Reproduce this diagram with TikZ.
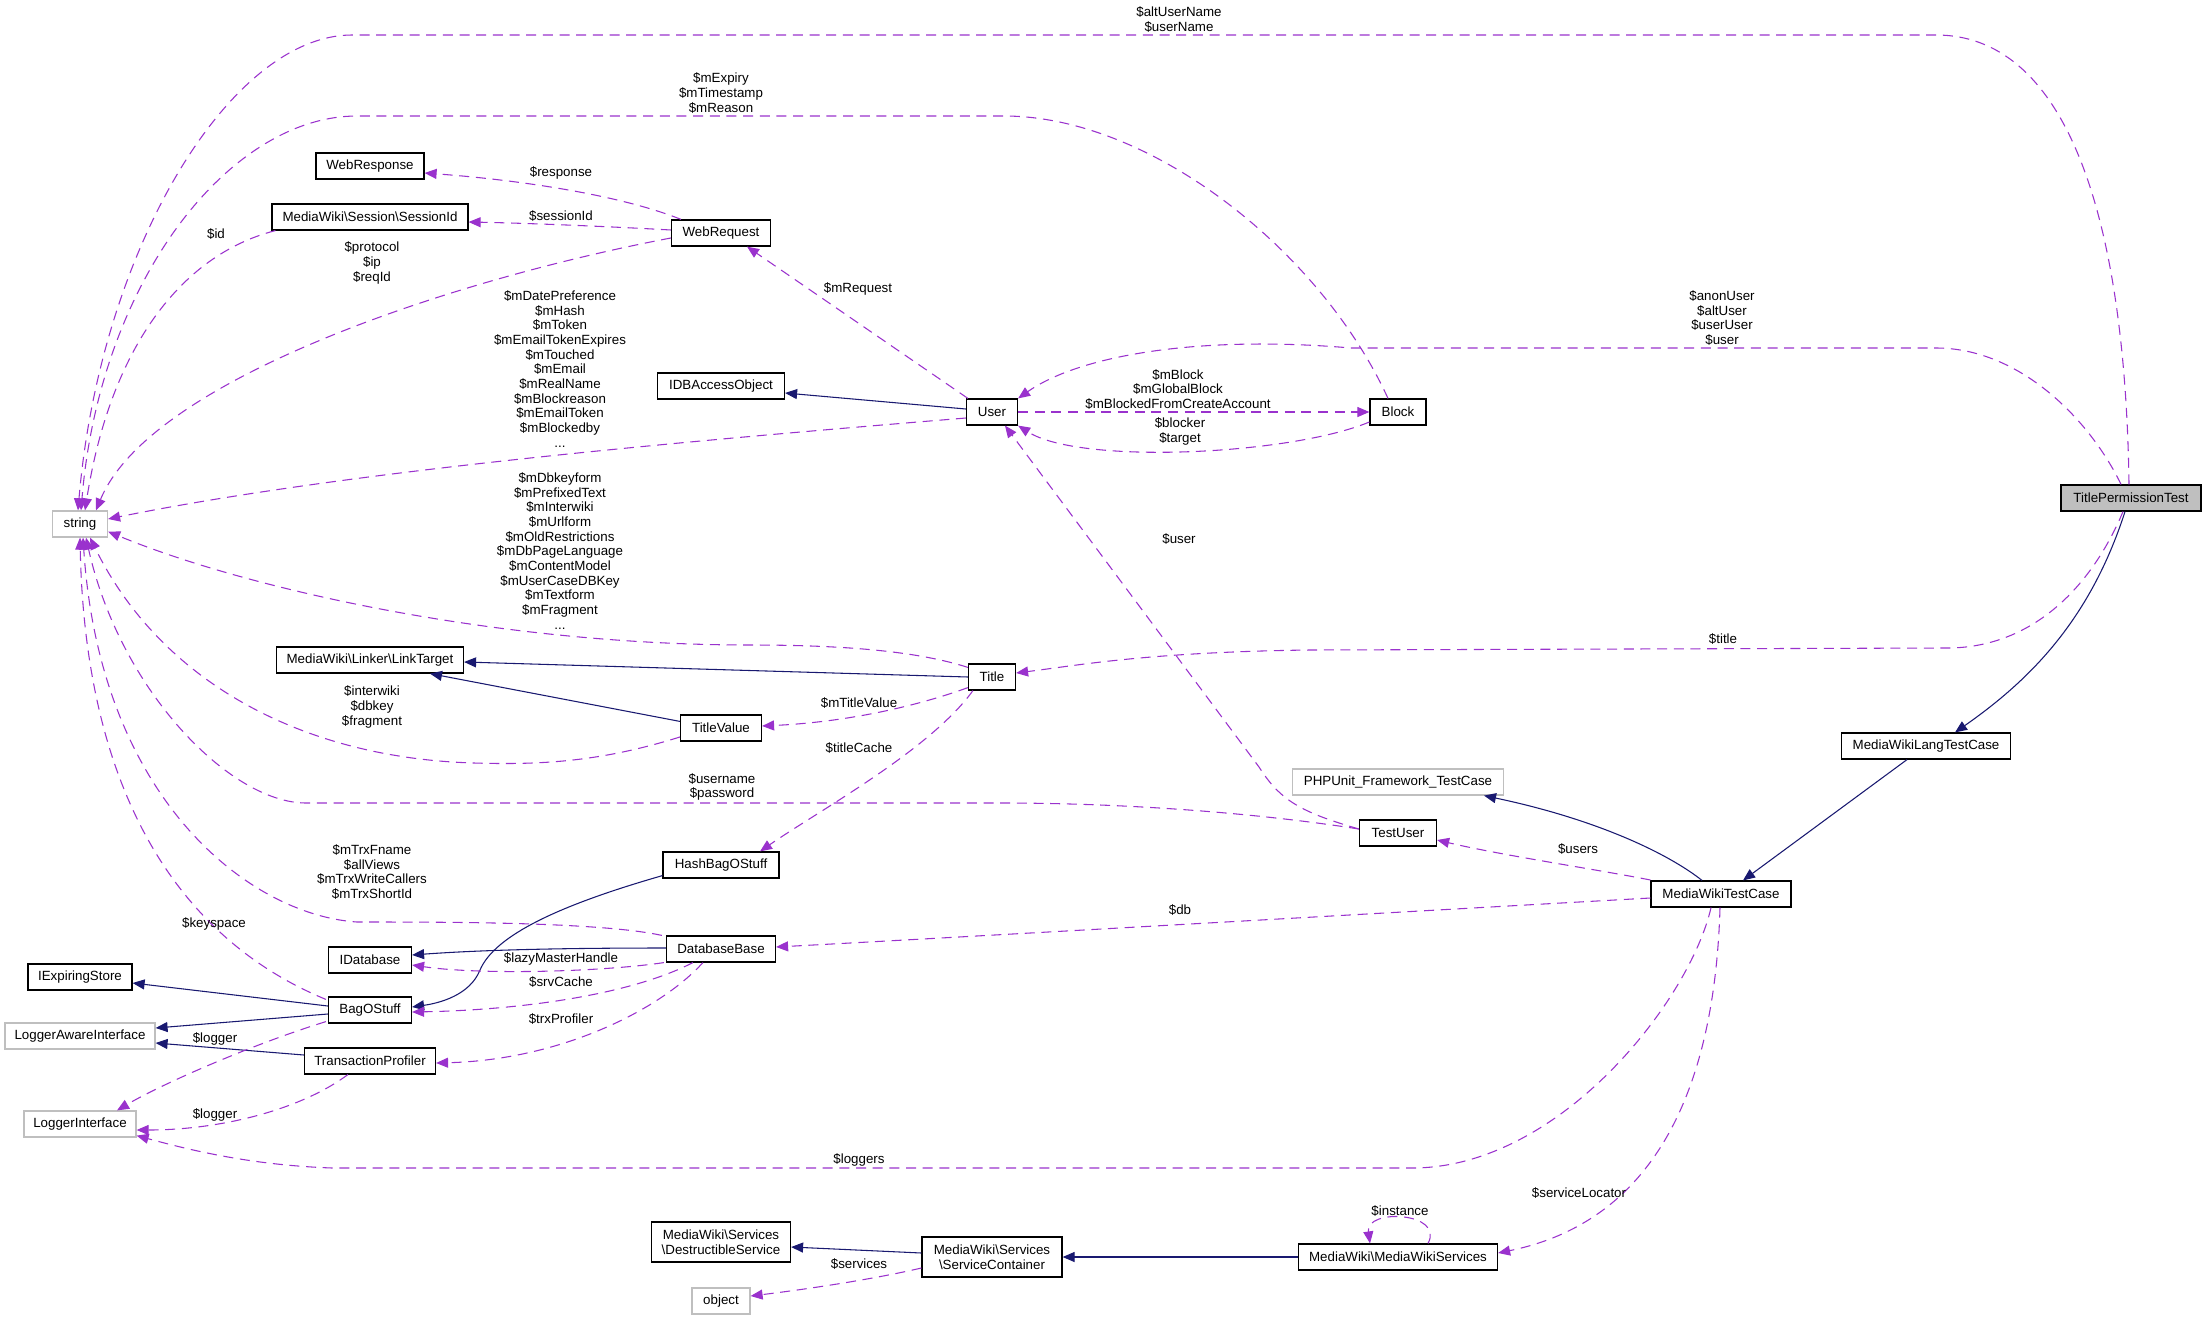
\documentclass[tikz,border=0pt]{standalone}
\usepackage{fontspec}
\setmainfont{Liberation Sans}
\usetikzlibrary{arrows.meta,calc}
\definecolor{navy}{HTML}{191970}
\definecolor{purp}{HTML}{9A32CD}
\definecolor{grayb}{HTML}{BFBFBF}
\begin{document}
\begin{tikzpicture}[x=0.75pt,y=-0.75pt,
  every node/.style={font=\fontsize{10}{11}\selectfont},
  cls/.style={draw=black, line width=0.9pt, fill=white, inner sep=0pt, minimum height=19.5pt, align=center},
  ext/.style={cls, draw=grayb},
  cur/.style={cls, fill=grayb},
  inh/.style={draw=navy, line width=0.8pt, -{Triangle[length=9pt,width=7.5pt]}},
  use/.style={draw=purp, line width=0.8pt, dash pattern=on 7.5pt off 5pt, -{Triangle[length=9pt,width=7.5pt]}},
  lbl/.style={inner sep=0pt, align=center}]
\useasboundingbox (0,0) rectangle (2205,1320);
% nodes
\node[cls, minimum width=81pt] (WebResponse) at (370,166) {WebResponse};
\node[cls, minimum width=147pt] (SessionId) at (370,217) {MediaWiki\textbackslash Session\textbackslash SessionId};
\node[cls, minimum width=74.25pt] (WebRequest) at (721,233) {WebRequest};
\node[cls, minimum width=95.25pt] (IDBAccessObject) at (721,386) {IDBAccessObject};
\node[ext, minimum width=41.25pt] (string) at (80,524) {string};
\node[cls, minimum width=140.25pt] (LinkTarget) at (370,660) {MediaWiki\textbackslash Linker\textbackslash LinkTarget};
\node[cls, minimum width=60.75pt] (TitleValue) at (721,728) {TitleValue};
\node[cls, minimum width=87pt] (HashBagOStuff) at (721,865) {HashBagOStuff};
\node[cls, minimum width=78pt] (IExpiringStore) at (80,977) {IExpiringStore};
\node[ext, minimum width=112.5pt] (LoggerAwareInterface) at (80,1036) {LoggerAwareInterface};
\node[ext, minimum width=84pt] (LoggerInterface) at (80,1124) {LoggerInterface};
\node[cls, minimum width=62.25pt] (IDatabase) at (370,960) {IDatabase};
\node[cls, minimum width=62.25pt] (BagOStuff) at (370,1010) {BagOStuff};
\node[cls, minimum width=98.25pt] (TransactionProfiler) at (370,1061) {TransactionProfiler};
\node[cls, minimum width=81.75pt] (DatabaseBase) at (721,949) {DatabaseBase};
\node[cls, minimum width=104.25pt, minimum height=30pt] (DestructibleService) at (721,1242) {MediaWiki\textbackslash Services\\\textbackslash DestructibleService};
\node[ext, minimum width=43.5pt] (object) at (721,1301) {object};
\node[cls, minimum width=38.25pt] (User) at (992,412) {User};
\node[cls, minimum width=42pt] (Block) at (1398,412) {Block};
\node[cls, minimum width=35.25pt] (Title) at (992,677) {Title};
\node[ext, minimum width=158.25pt] (PHPUnit) at (1398,782) {PHPUnit\_Framework\_TestCase};
\node[cls, minimum width=57.75pt] (TestUser) at (1398,833) {TestUser};
\node[cur, minimum width=105pt] (TPT) at (2131,498) {TitlePermissionTest};
\node[cls, minimum width=126.75pt] (MWLTC) at (1926,746) {MediaWikiLangTestCase};
\node[cls, minimum width=105pt] (MWTC) at (1721,894) {MediaWikiTestCase};
\node[cls, minimum width=105pt, minimum height=30pt] (ServiceContainer) at (992,1257) {MediaWiki\textbackslash Services\\\textbackslash ServiceContainer};
\node[cls, minimum width=149.25pt] (MWS) at (1398,1257) {MediaWiki\textbackslash MediaWikiServices};
% inheritance
\draw[inh] ($(User.west)+(0,-3)$) -- ($(IDBAccessObject.east)+(0,7)$);
\draw[inh] (Title.west) -- ($(LinkTarget.east)+(0,2)$);
\draw[inh] ($(TitleValue.north west)+(0,7)$) -- ($(LinkTarget.south)+(60,0)$);
\draw[inh] ($(HashBagOStuff.south west)+(0,-3)$) .. controls (560,905) and (495,935) .. (480,970) .. controls (470,995) and (440,1003) .. ($(BagOStuff.east)+(0,-3)$);
\draw[inh] ($(DatabaseBase.west)+(0,-1)$) .. controls (560,948) and (480,950) .. ($(IDatabase.east)+(0,-5)$);
\draw[inh] ($(BagOStuff.west)+(0,-4)$) -- ($(IExpiringStore.east)+(0,6)$);
\draw[inh] ($(BagOStuff.west)+(0,4)$) -- ($(LoggerAwareInterface.east)+(0,-8)$);
\draw[inh] ($(TransactionProfiler.west)+(0,-6)$) -- ($(LoggerAwareInterface.east)+(0,7)$);
\draw[inh] ($(TPT.south)+(-6,0)$) .. controls (2090,620) and (2030,680) .. ($(MWLTC.north)+(29,0)$);
\draw[inh] ($(MWLTC.south)+(-19,0)$) -- ($(MWTC.north)+(22,0)$);
\draw[inh] ($(MWTC.north)+(-19,0)$) .. controls (1670,855) and (1600,820) .. ($(PHPUnit.south)+(86,0)$);
\draw[inh] ($(ServiceContainer.west)+(0,-4)$) -- ($(DestructibleService.east)+(0,5)$);
\draw[inh] (MWS.west) -- (ServiceContainer.east);
% usage
\draw[use] ($(TPT.north)+(-2,0)$) .. controls (2125,200) and (2060,35) .. (1936,35) -- (352,35) .. controls (230,35) and (100,250) .. ($(string.north)+(-2,0)$);
\draw[use] ($(Block.north)+(-10,0)$) .. controls (1320,250) and (1150,116) .. (1004,116) -- (357,116) .. controls (230,116) and (100,280) .. ($(string.north)+(1,0)$);
\draw[use] ($(WebRequest.north)+(-40,0)$) .. controls (620,195) and (520,180) .. ($(WebResponse.east)+(0,7)$);
\draw[use] ($(WebRequest.west)+(0,-3)$) .. controls (600,226) and (520,223) .. ($(SessionId.east)+(0,5)$);
\draw[use] ($(SessionId.south west)+(4,0)$) .. controls (180,255) and (110,350) .. ($(string.north)+(5,0)$);
\draw[use] ($(WebRequest.west)+(0,5)$) .. controls (450,280) and (150,380) .. ($(string.north)+(16,0)$);
\draw[use] ($(User.north west)+(2,0)$) -- ($(WebRequest.south)+(26,0)$);
\draw[use] ($(User.west)+(0,6)$) .. controls (700,440) and (350,470) .. ($(string.east)+(0,-5)$);
\draw[use] (User.east) -- (Block.west);
\draw[use] ($(Block.west)+(0,10)$) .. controls (1290,455) and (1080,465) .. (User.south east);
\draw[use] ($(TPT.north)+(-10,0)$) .. controls (2090,420) and (2020,348) .. (1936,348) -- (1351,348) .. controls (1200,335) and (1080,355) .. (User.north east);
\draw[use] ($(TestUser.west)+(0,-4)$) .. controls (1300,812) and (1280,800) .. (1259,767) -- ($(User.south)+(13,0)$);
\draw[use] ($(Title.north west)+(0,4)$) .. controls (920,652) and (850,645) .. (750,645) .. controls (500,645) and (250,590) .. ($(string.south east)+(0,-6)$);
\draw[use] ($(Title.south west)+(0,-3)$) .. controls (920,705) and (850,722) .. ($(TitleValue.east)+(0,-2)$);
\draw[use] ($(Title.south west)+(5,0)$) .. controls (930,750) and (820,810) .. ($(HashBagOStuff.north)+(39,0)$);
\draw[use] ($(TitleValue.west)+(0,9)$) .. controls (600,762) and (540,765) .. (474,763) .. controls (300,758) and (160,680) .. ($(string.south)+(10,0)$);
\draw[use] ($(TestUser.west)+(0,-4)$) .. controls (1250,812) and (1120,803) .. (1000,803) -- (306,803) .. controls (230,803) and (120,690) .. ($(string.south)+(6,0)$);
\draw[use] ($(DatabaseBase.north west)+(-4,0)$) .. controls (600,922) and (450,922) .. (357,922) .. controls (250,915) and (100,800) .. ($(string.south)+(3,0)$);
\draw[use] ($(BagOStuff.north west)+(-2,3)$) .. controls (170,935) and (85,780) .. ($(string.south)+(0,0)$);
\draw[use] ($(DatabaseBase.south west)+(-2,0)$) .. controls (600,972) and (480,975) .. ($(IDatabase.east)+(0,5)$);
\draw[use] ($(DatabaseBase.south west)+(27,0)$) .. controls (630,995) and (520,1010) .. ($(BagOStuff.east)+(0,2)$);
\draw[use] ($(DatabaseBase.south west)+(37,0)$) .. controls (660,1010) and (560,1060) .. ($(TransactionProfiler.east)+(0,2)$);
\draw[use] ($(BagOStuff.south west)+(-2,-2)$) .. controls (250,1045) and (160,1085) .. ($(LoggerInterface.north)+(37,0)$);
\draw[use] ($(TransactionProfiler.south west)+(44,0)$) .. controls (300,1110) and (220,1130) .. ($(LoggerInterface.east)+(0,6)$);
\draw[use] ($(MWTC.south)+(-10,0)$) .. controls (1690,1000) and (1560,1168) .. (1412,1168) -- (332,1168) .. controls (250,1165) and (190,1150) .. ($(LoggerInterface.south east)+(0,-2)$);
\draw[use] ($(TPT.south)+(-8,0)$) .. controls (2090,590) and (2030,648) .. (1947,648) -- (1310,650) .. controls (1150,652) and (1080,665) .. ($(Title.east)+(0,-4)$);
\draw[use] ($(MWTC.west)+(0,-14)$) .. controls (1600,870) and (1500,855) .. ($(TestUser.east)+(0,7)$);
\draw[use] ($(MWTC.west)+(0,4)$) .. controls (1400,912) and (1000,935) .. ($(DatabaseBase.east)+(0,-2)$);
\draw[use] ($(MWTC.south)+(-1,0)$) .. controls (1715,1080) and (1660,1220) .. ($(MWS.east)+(0,-4)$);
\draw[use] ($(MWS.north)+(30,0)$) .. controls (1445,1212) and (1365,1208) .. ($(MWS.north)+(-28,0)$);
\draw[use] ($(ServiceContainer.west)+(0,11)$) .. controls (870,1280) and (800,1290) .. ($(object.east)+(0,-5)$);
% labels
\node[lbl] (l1) at (1179,19.5) {\$altUserName\\\$userName};
\node[lbl] (l2) at (721,93) {\$mExpiry\\\$mTimestamp\\\$mReason};
\node[lbl] (l3) at (561,173) {\$response};
\node[lbl] (l4) at (561,216) {\$sessionId};
\node[lbl] (l5) at (216,234) {\$id};
\node[lbl] (l6) at (372,263) {\$protocol\\\$ip\\\$reqId};
\node[lbl] (l7) at (560,369) {\$mDatePreference\\\$mHash\\\$mToken\\\$mEmailTokenExpires\\\$mTouched\\\$mEmail\\\$mRealName\\\$mBlockreason\\\$mEmailToken\\\$mBlockedby\\...};
\node[lbl] (l8) at (858,289) {\$mRequest};
\node[lbl] (l9) at (1178,389.5) {\$mBlock\\\$mGlobalBlock\\\$mBlockedFromCreateAccount};
\node[lbl] (l10) at (1180,431.5) {\$blocker\\\$target};
\node[lbl] (l11) at (1722,318) {\$anonUser\\\$altUser\\\$userUser\\\$user};
\node[lbl] (l12) at (1179,539) {\$user};
\node[lbl] (l13) at (560,551) {\$mDbkeyform\\\$mPrefixedText\\\$mInterwiki\\\$mUrlform\\\$mOldRestrictions\\\$mDbPageLanguage\\\$mContentModel\\\$mUserCaseDBKey\\\$mTextform\\\$mFragment\\...};
\node[lbl] (l14) at (372,707) {\$interwiki\\\$dbkey\\\$fragment};
\node[lbl] (l15) at (722,787) {\$username\\\$password};
\node[lbl] (l16) at (372,872) {\$mTrxFname\\\$allViews\\\$mTrxWriteCallers\\\$mTrxShortId};
\node[lbl] (l17) at (859,703) {\$mTitleValue};
\node[lbl] (l18) at (859,748) {\$titleCache};
\node[lbl] (l19) at (1723,639) {\$title};
\node[lbl] (l20) at (1578,849) {\$users};
\node[lbl] (l21) at (1180,910) {\$db};
\node[lbl] (l22) at (214,924) {\$keyspace};
\node[lbl] (l23) at (561,959) {\$lazyMasterHandle};
\node[lbl] (l24) at (561,982) {\$srvCache};
\node[lbl] (l25) at (561,1019) {\$trxProfiler};
\node[lbl] (l26) at (215,1039) {\$logger};
\node[lbl] (l27) at (215,1115) {\$logger};
\node[lbl] (l28) at (859,1160) {\$loggers};
\node[lbl] (l29) at (1400,1211) {\$instance};
\node[lbl] (l30) at (1579,1193) {\$serviceLocator};
\node[lbl] (l31) at (859,1264) {\$services};
\end{tikzpicture}
\end{document}
